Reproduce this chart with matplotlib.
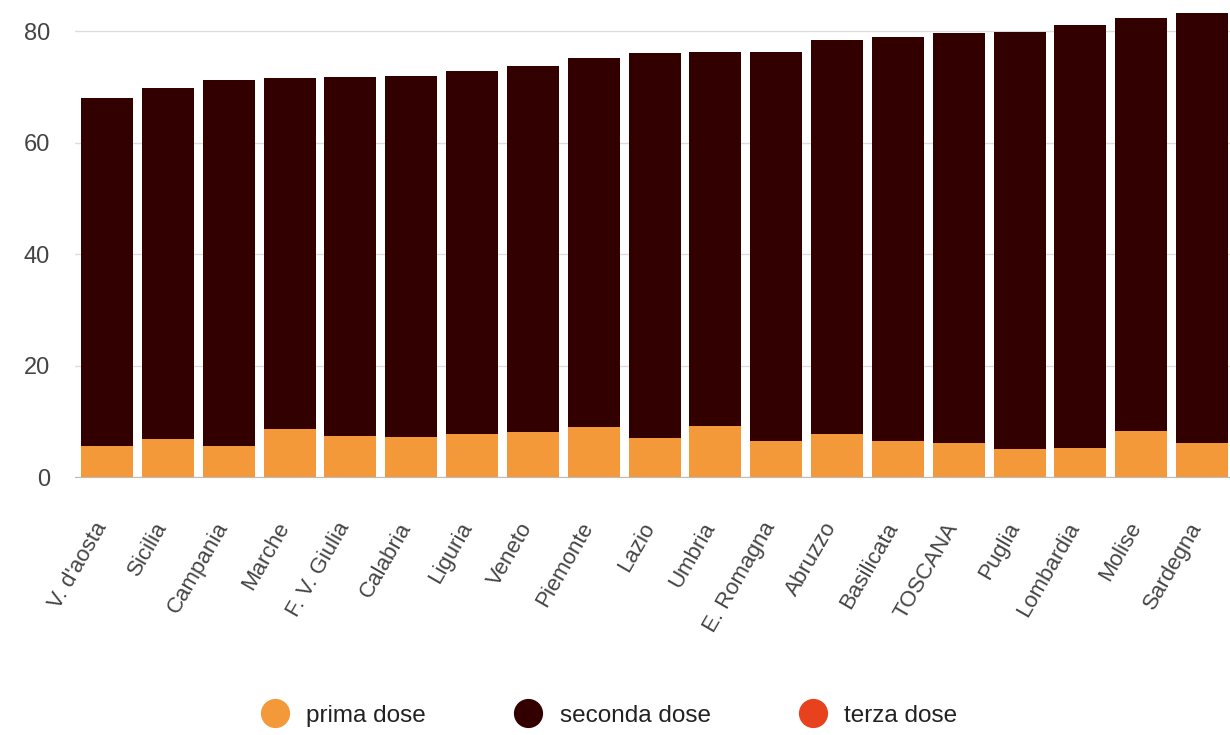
import matplotlib.pyplot as plt
from matplotlib.lines import Line2D
from matplotlib.transforms import ScaledTranslation
import numpy as np

plt.rcParams['font.family'] = ['Liberation Sans', 'DejaVu Sans']

# regioni e percentuali
regioni = ['V. d\'aosta', 'Sicilia', 'Campania', 'Marche', 'F. V. Giulia', 'Calabria',
           'Liguria', 'Veneto', 'Piemonte', 'Lazio', 'Umbria', 'E. Romagna', 'Abruzzo',
           'Basilicata', 'TOSCANA', 'Puglia', 'Lombardia', 'Molise', 'Sardegna']
totale = [68.0, 69.8, 71.2, 71.6, 71.7, 71.9, 72.8, 73.7, 75.2, 76.1, 76.2, 76.2,
          78.4, 78.9, 79.6, 79.8, 81.1, 82.3, 83.2]
prima = [5.6, 6.8, 5.6, 8.6, 7.4, 7.2, 7.7, 8.1, 9.0, 7.0, 9.1, 6.5,
         7.7, 6.5, 6.1, 5.0, 5.2, 8.3, 6.1]
terza = [0] * len(regioni)
seconda = [t - p for t, p in zip(totale, prima)]

c_prima = '#f39939'
c_seconda = '#330000'
c_terza = '#e8411e'

fig = plt.figure(figsize=(12.3, 7.35), dpi=100)
ax = fig.add_axes([0.061, 0.351, 0.939, 0.637])

x = np.arange(len(regioni))
ax.bar(x, prima, width=0.855, color=c_prima, zorder=3)
ax.bar(x, seconda, width=0.855, bottom=prima, color=c_seconda, zorder=3)
ax.bar(x, terza, width=0.855, bottom=totale, color=c_terza, zorder=3)

ax.set_xlim(-0.526, 18.46)
ax.set_ylim(0, 84)
ax.set_yticks([0, 20, 40, 60, 80])
ax.grid(axis='y', color='#dddddd', linewidth=1, zorder=0)
for s in ['top', 'right', 'left']:
    ax.spines[s].set_visible(False)
ax.spines['bottom'].set_color('#bbbbbb')
ax.tick_params(axis='y', length=0, pad=18, labelsize=17, labelcolor='#444444')
ax.tick_params(axis='x', length=0, pad=30)
ax.set_xticks(x)
ax.set_xticklabels(regioni, rotation=60, ha='right', rotation_mode='anchor',
                   fontsize=16, color='#444444')
shift = ScaledTranslation(-14 / 100, 0, fig.dpi_scale_trans)
for lab in ax.get_xticklabels():
    lab.set_transform(lab.get_transform() + shift)

handles = [Line2D([], [], marker='o', linestyle='', markersize=20, color=c)
           for c in [c_prima, c_seconda, c_terza]]
fig.legend(handles, ['prima dose', 'seconda dose', 'terza dose'], loc='center',
           bbox_to_anchor=(0.491, 0.026), ncol=3, frameon=False, fontsize=17.5,
           handletextpad=0.3, columnspacing=3.2, labelcolor='#222222')

fig.savefig('out.png', dpi=100)
